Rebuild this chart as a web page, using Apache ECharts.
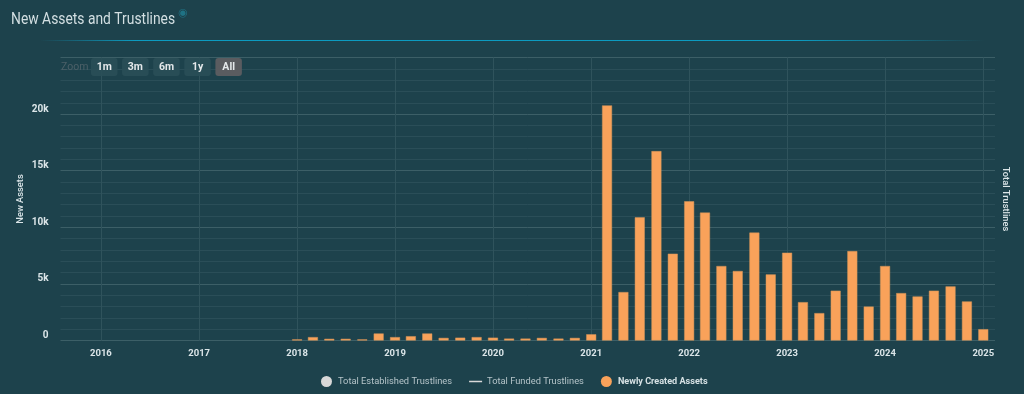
<!DOCTYPE html>
<html><head><meta charset="utf-8">
<style>html,body{margin:0;padding:0;background:#1d424c}#c{width:1024px;height:394px}</style>
<script src="https://cdn.jsdelivr.net/npm/echarts@6/dist/echarts.min.js"></script>
</head><body><div id="c"></div>
<script>
const months = ['2018-01','2018-03','2018-05','2018-07','2018-09','2018-11',
 '2019-01','2019-03','2019-05','2019-07','2019-09','2019-11',
 '2020-01','2020-03','2020-05','2020-07','2020-09','2020-11',
 '2021-01','2021-03','2021-05','2021-07','2021-09','2021-11',
 '2022-01','2022-03','2022-05','2022-07','2022-09','2022-11',
 '2023-01','2023-03','2023-05','2023-07','2023-09','2023-11',
 '2024-01','2024-03','2024-05','2024-07','2024-09','2024-11','2025-01'];
const newAssets = [100,300,150,150,100,620,
 300,380,620,230,250,300,
 250,170,170,230,170,230,
 550,20770,4280,10880,16730,7670,
 12300,11300,6580,6140,9530,5840,
 7760,3390,2420,4400,7900,3000,
 6580,4190,3890,4400,4780,3450,1000];
const rangeButtons = ['1m','3m','6m','1y','All'];
const titleText = 'New Assets and Trustlines';
const legendNames = ['Total Established Trustlines','Total Funded Trustlines','Newly Created Assets'];

const font = 'Roboto';
const chart = echarts.init(document.getElementById('c'), null, {renderer:'canvas'});
const btn = rangeButtons.map((t,i)=>{
  const x = 91 + i*31.1, on = t==='All';
  return {type:'group',x:x,y:58,children:[
    {type:'rect',z:50,shape:{x:0,y:0,width:26.5,height:18,r:3},style:{fill:on?'#5a5c60':'#2a4f58',opacity:on?1:0.9}},
    {type:'text',z:51,style:{x:13.25,y:9,text:t,fill:'#e4e8ea',font:'bold 10.5px '+font,align:'center',verticalAlign:'middle'}}
  ]};
});
chart.setOption({
  animation:false,
  backgroundColor:'#1d424c',
  grid:{left:60.5,right:29,top:57.5,bottom:53.5},
  legend:{
    bottom:2,left:316,itemGap:17,itemWidth:13,itemHeight:11,
    data:[
      {name:legendNames[0],icon:'circle',itemStyle:{color:'#d8d8d8',opacity:1,borderWidth:0},textStyle:{color:'#b5c4c9',fontWeight:'normal',fontSize:9.3}},
      {name:legendNames[1],icon:'path://M0 0L0 0ZM0 4.8H13V6.2H0ZM13 11L13 11Z',itemStyle:{color:'#d8d8d8',opacity:1,borderWidth:0},textStyle:{color:'#b5c4c9',fontWeight:'normal',fontSize:9.3}},
      {name:legendNames[2],icon:'circle',itemStyle:{color:'#f9a25a',opacity:1,borderWidth:0},textStyle:{color:'#d6e1e4',fontWeight:'bold',fontSize:9.1}}
    ],
    textStyle:{fontFamily:font,fontSize:9.3}
  },
  xAxis:{
    type:'time',
    min:'2015-08-22',max:'2025-01-26',
    minInterval:365*86400000,maxInterval:366*86400000,
    axisLine:{show:false},axisTick:{show:false},
    axisLabel:{color:'#dbe5e8',fontFamily:font,fontWeight:'bold',fontSize:9.5,margin:8,formatter:'{yyyy}',hideOverlap:false,
      showMinLabel:false,showMaxLabel:false},
    splitLine:{show:true,showMinLine:false,showMaxLine:false,lineStyle:{color:'#2f535c',width:1}},
    minorTick:{show:false},minorSplitLine:{show:false}
  },
  yAxis:[
    {type:'value',min:0,max:25000,interval:5000,
     name:'New Assets',nameLocation:'middle',nameGap:35,nameRotate:90,nameMoveOverlap:false,
     nameTextStyle:{color:'#dbe5e8',fontFamily:font,fontSize:9.3,fontWeight:500},
     axisLine:{show:false},axisTick:{show:false},
     axisLabel:{color:'#dbe5e8',fontFamily:font,fontWeight:'bold',fontSize:10,margin:12,
       formatter:v=>v===0?'0':(v>=25000?'':(v/1000)+'k'),verticalAlign:'bottom'},
     splitLine:{show:true,lineStyle:{color:'#3c5f67',width:1}},
     minorTick:{show:false,splitNumber:5},
     minorSplitLine:{show:true,lineStyle:{color:'#2a4e58',width:1}}},
    {type:'value',min:0,max:25000,interval:5000,position:'right',
     name:'Total Trustlines',nameLocation:'middle',nameGap:6,nameRotate:-90,
     nameTextStyle:{color:'#dbe5e8',fontFamily:font,fontSize:9.3,fontWeight:500},
     axisLine:{show:false},axisTick:{show:false},axisLabel:{show:false},splitLine:{show:false}}
  ],
  series:[
    {name:legendNames[0],type:'scatter',data:[],itemStyle:{color:'#d8d8d8'}},
    {name:legendNames[1],type:'line',data:[],symbol:'none',showSymbol:false,itemStyle:{color:'#d8d8d8'},lineStyle:{color:'#d8d8d8',width:1.5}},
    {name:legendNames[2],type:'bar',barWidth:10,z:5,
     data:months.map((m,i)=>[m+'-01',newAssets[i]]),
     itemStyle:{color:'#f9a25a',borderColor:'#d0955a',borderWidth:0.5}}
  ],
  graphic:[
    {type:'text',z:10,x:11,y:20,scaleX:0.84,style:{x:0,y:0,text:titleText,fill:'#d3dfe2',font:'16.5px '+font,verticalAlign:'middle'}},
    {type:'rect',z:1,shape:{x:40,y:40,width:945,height:1},
     style:{fill:new echarts.graphic.LinearGradient(0,0,1,0,[
       {offset:0,color:'rgba(10,165,205,0)'},{offset:0.1,color:'rgba(10,165,205,0.9)'},
       {offset:0.8,color:'rgba(10,165,205,0.9)'},{offset:1,color:'rgba(10,165,205,0)'}])}},
    {type:'text',z:1,style:{x:183,y:13,text:'\u25C9',fill:'#1f7284',font:'11px "DejaVu Sans"',align:'center',verticalAlign:'middle'}},
    {type:'text',z:50,style:{x:61,y:67,text:'Zoom',fill:'#4c6068',font:'10.5px '+font,verticalAlign:'middle'}},
    ...btn
  ]
});
</script></body></html>
